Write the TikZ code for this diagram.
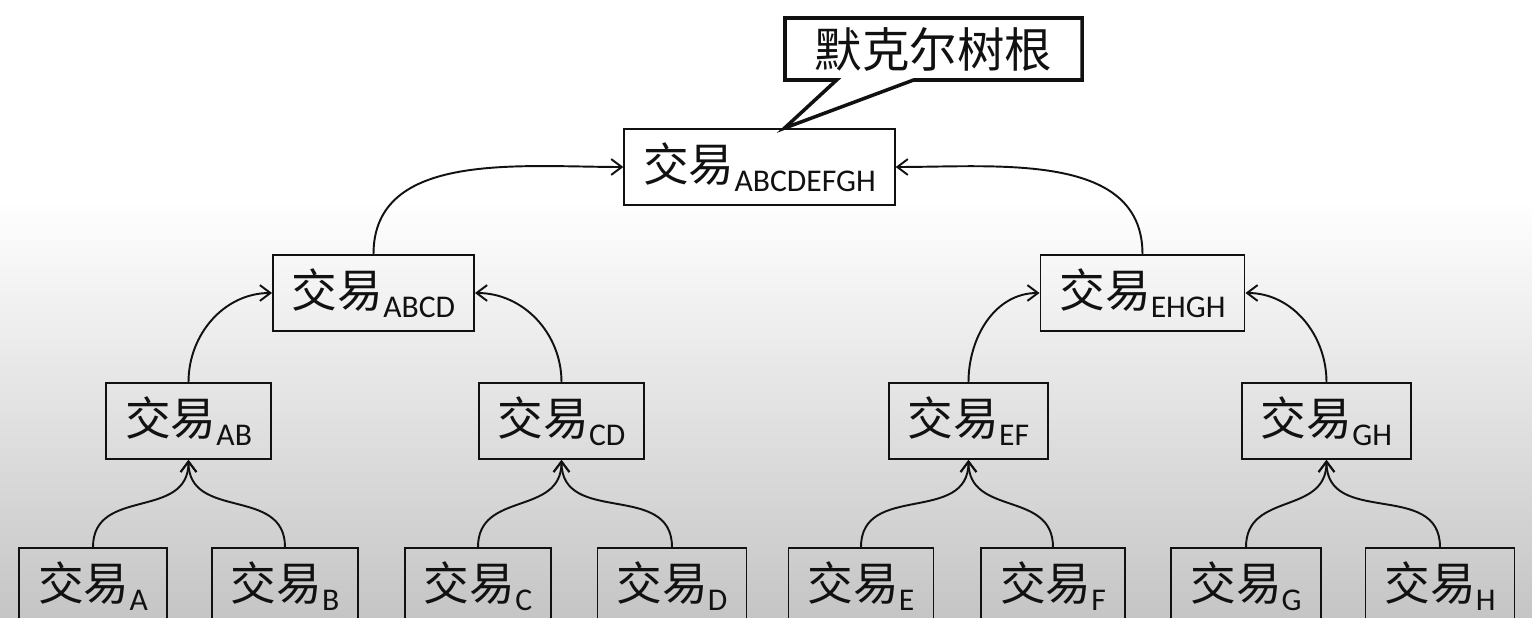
\documentclass[tikz,border=0pt]{standalone}
\usepackage{fontspec}
\usepackage{xcolor}
\usepackage{tikz}
\usetikzlibrary{arrows.meta,shapes.callouts,calc}
\setmainfont{Carlito}
\newfontfamily\cjk{Noto Sans CJK SC}
\definecolor{figInk}{HTML}{111111}
\definecolor{figShade}{HTML}{C4C5C4}
\newcommand{\jy}[1]{{\cjk\fontsize{26}{30}\selectfont 交易}\raisebox{-5.5pt}{#1}}

\begin{document}
\begin{tikzpicture}[
  every node/.style={font=\fontsize{18}{20}\selectfont, text=figInk},
  tx/.style={
    draw=figInk, line width=1pt, inner xsep=0.38cm, inner ysep=0pt,
    minimum height=1.52cm,
  },
  bubble/.style={
    rectangle callout, draw=figInk, line width=2pt, fill=white,
    minimum width=5.94cm, minimum height=1.24cm, inner sep=0pt,
    callout pointer width=1.54cm,
    font=\cjk\fontsize{27}{30}\selectfont,
  },
  link/.style={-{Straight Barb[length=6pt,width=9pt]}, figInk, line width=1.1pt},
]

% === Background ===
\useasboundingbox (0,0) rectangle (30.64,-12.36);
\clip (0,0) rectangle (30.64,-12.36);
\fill[white] (0,0) rectangle (30.64,-4);
\shade[top color=white, bottom color=figShade] (0,-4) rectangle (30.64,-12.36);

% === Root ===
\node[tx] (root) at (15.19, -3.34) {\jy{ABCDEFGH}};

% === Second level ===
\node[tx] (abcd) at (7.47, -5.86) {\jy{ABCD}};
\node[tx] (ehgh) at (22.85, -5.86) {\jy{EHGH}};

% === Pair level ===
\node[tx] (ab) at (3.77, -8.42) {\jy{AB}};
\node[tx] (cd) at (11.23, -8.42) {\jy{CD}};
\node[tx] (ef) at (19.37, -8.42) {\jy{EF}};
\node[tx] (gh) at (26.53, -8.42) {\jy{GH}};

% === Transactions ===
\node[tx] (a) at (1.86, -11.72) {\jy{A}};
\node[tx] (b) at (5.70, -11.72) {\jy{B}};
\node[tx] (c) at (9.56, -11.72) {\jy{C}};
\node[tx] (d) at (13.44, -11.72) {\jy{D}};
\node[tx] (e) at (17.22, -11.72) {\jy{E}};
\node[tx] (f) at (21.06, -11.72) {\jy{F}};
\node[tx] (g) at (24.92, -11.72) {\jy{G}};
\node[tx] (h) at (28.80, -11.72) {\jy{H}};

% === Hash links ===
\foreach \kid/\up in {a/ab, b/ab, c/cd, d/cd, e/ef, f/ef, g/gh, h/gh}
  \draw[link] (\kid.north) to[out=90, in=-90, looseness=1.2] (\up.south);
\draw[link] (ab.north) to[out=90, in=180] (abcd.west);
\draw[link] (cd.north) to[out=90, in=0] (abcd.east);
\draw[link] (ef.north) to[out=90, in=180] (ehgh.west);
\draw[link] (gh.north) to[out=90, in=0] (ehgh.east);
\draw[link] (abcd.north) to[out=90, in=180] (root.west);
\draw[link] (ehgh.north) to[out=90, in=0] (root.east);

% === Callout ===
\node[bubble, callout absolute pointer={($(root.north)+(0.5,0)$)}] (label)
  at (18.67, -0.98) {默克尔树根};

\end{tikzpicture}
\end{document}
